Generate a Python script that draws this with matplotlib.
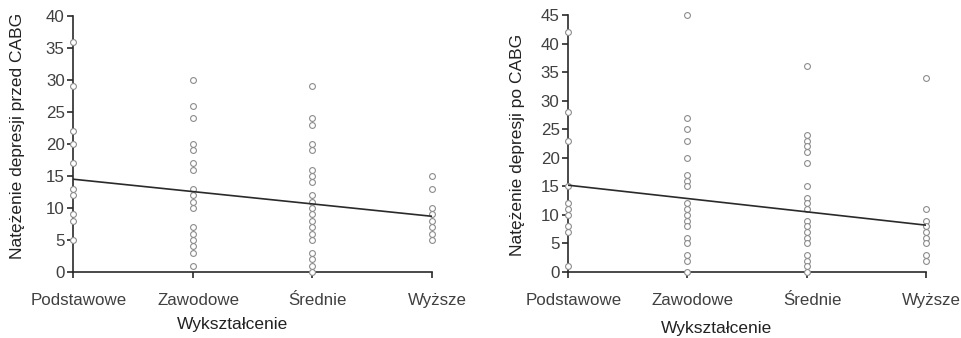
import matplotlib
matplotlib.use("Agg")
import matplotlib.pyplot as plt
from matplotlib.transforms import ScaledTranslation

plt.rcParams['font.family'] = ['Liberation Sans', 'DejaVu Sans']

categories = ["Podstawowe", "Zawodowe", "Średnie", "Wyższe"]
xlabel = "Wykształcenie"

# depression before CABG, per education group
before = [
    [36, 29, 22, 20, 17, 13, 12, 9, 8, 5],
    [30, 26, 24, 20, 19, 17, 16, 13, 12, 11, 10, 7, 6, 5, 4, 3, 1],
    [29, 24, 23, 20, 19, 16, 15, 14, 12, 11, 10, 9, 8, 7, 6, 5, 3, 2, 1, 0],
    [15, 13, 10, 9, 8, 7, 6, 5],
]
before_fit = [14.5, 8.7]   # fit line value at first / last category

# depression after CABG
after = [
    [42, 28, 23, 15, 12, 11, 10, 8, 7, 1],
    [45, 27, 25, 23, 20, 17, 16, 15, 12, 11, 10, 9, 8, 6, 5, 3, 2, 0],
    [36, 24, 23, 22, 21, 19, 15, 13, 12, 11, 9, 8, 7, 6, 5, 3, 2, 1, 0],
    [34, 11, 9, 8, 7, 6, 5, 3, 2],
]
after_fit = [15.2, 8.2]

panels = [
    dict(data=before, fit=before_fit, ylabel="Natężenie depresji przed CABG",
         ymax=40, rect=[0.0759, 0.1953, 0.3733, 0.7574],
         xlab=(0.443, -0.175), ylab=(-0.134, 0.53)),
    dict(data=after, fit=after_fit, ylabel="Natężenie depresji po CABG",
         ymax=45, rect=[0.5904, 0.1953, 0.3721, 0.7604],
         xlab=(0.416, -0.19), ylab=(-0.12, 0.494)),
]

fig = plt.figure(figsize=(9.62, 3.38), dpi=100)

for p in panels:
    ax = fig.add_axes(p["rect"])
    for i, vals in enumerate(p["data"]):
        ax.plot([i] * len(vals), vals, linestyle='none', marker='o', markersize=4.2,
                markerfacecolor='white', markeredgecolor='#8c8c8c',
                markeredgewidth=0.8, clip_on=False, zorder=3)
    ax.plot([0, len(categories) - 1], p["fit"], color='#2a2a2a', lw=1.2, zorder=4)

    ax.set_xlim(0, len(categories) - 1)
    ax.set_ylim(0, p["ymax"])
    ax.set_xticks(range(len(categories)))
    ax.set_xticklabels(categories)
    ax.set_yticks(range(0, p["ymax"] + 1, 5))

    for s in ['top', 'right']:
        ax.spines[s].set_visible(False)
    for s in ['left', 'bottom']:
        ax.spines[s].set_linewidth(1.2)
        ax.spines[s].set_color('#2a2a2a')
    ax.tick_params(direction='out', length=4, width=1.2, color='#2a2a2a',
                   labelsize=12.2, labelcolor='#404040')
    ax.tick_params(axis='x', pad=11)
    ax.tick_params(axis='y', pad=2)

    # category labels sit a little right of their ticks in the original
    shift = ScaledTranslation(4 / 72, 0, fig.dpi_scale_trans)
    for lbl in ax.get_xticklabels():
        lbl.set_transform(lbl.get_transform() + shift)

    ax.set_xlabel(xlabel, fontsize=12.5, color='#222222')
    ax.xaxis.set_label_coords(*p["xlab"])
    ax.set_ylabel(p["ylabel"], fontsize=12.5, color='#222222')
    ax.yaxis.set_label_coords(*p["ylab"])

fig.savefig("out.png", dpi=100)
